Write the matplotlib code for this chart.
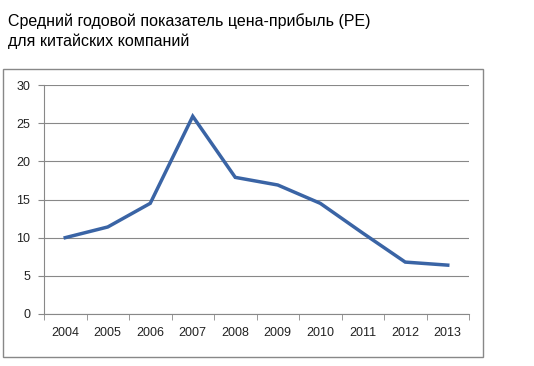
import matplotlib.pyplot as plt
from matplotlib.patches import Rectangle
import numpy as np

years = ['2004', '2005', '2006', '2007', '2008', '2009', '2010', '2011', '2012', '2013']
pe = [10.0, 11.4, 14.5, 25.9, 17.9, 16.9, 14.5, 10.6, 6.8, 6.4]

plt.rcParams['font.family'] = ['Liberation Sans', 'DejaVu Sans']

fig = plt.figure(figsize=(5.34, 3.66), dpi=100)
fig.text(0.015, 0.965, 'Средний годовой показатель цена-прибыль (PE)\nдля китайских компаний',
         ha='left', va='top', fontsize=11.5, linespacing=1.4)

# outer chart frame
fig.patches.append(Rectangle((3 / 534, 1 - 357 / 366), 480 / 534, 288 / 366,
                             transform=fig.transFigure, fill=False, edgecolor='#888888', lw=1.0))

ax = fig.add_axes([44 / 534, 1 - 314 / 366, 425 / 534, 229 / 366])
x = np.arange(len(years))
ax.plot(x, pe, color='#3A64A5', lw=2.5, solid_joinstyle='miter')

ax.set_xlim(-0.5, len(years) - 0.5)
ax.set_ylim(0, 30)
ax.set_yticks(range(0, 31, 5))
ax.set_xticks(x)
ax.set_xticklabels(years)
ax.set_xticks(np.arange(-0.5, len(years)), minor=True)
ax.tick_params(axis='x', which='major', length=0, pad=9, labelsize=9, colors='#222222')
ax.tick_params(axis='x', which='minor', length=4, color='#888888')
ax.tick_params(axis='y', length=4, color='#888888', labelsize=9, labelcolor='#222222', pad=6)
ax.grid(axis='y', color='#888888', lw=0.8)
for s in ['top', 'right']:
    ax.spines[s].set_visible(False)
ax.spines['left'].set_color('#888888')
ax.spines['bottom'].set_color('#888888')
ax.set_axisbelow(True)

fig.savefig('out.png', dpi=100)
